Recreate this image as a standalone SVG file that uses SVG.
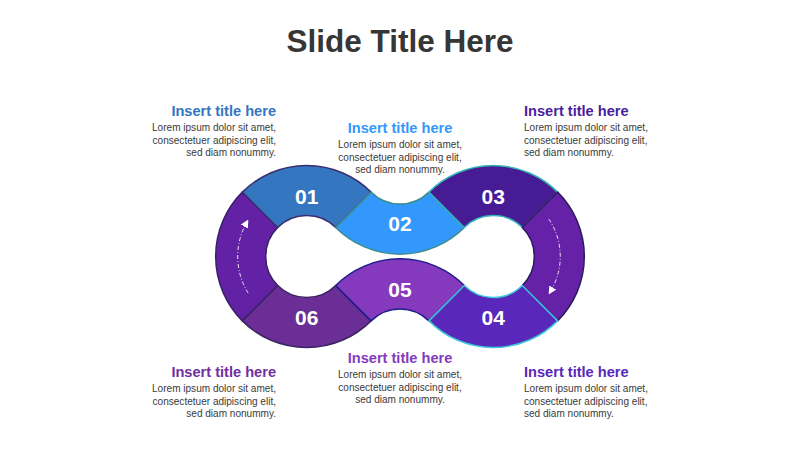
<svg xmlns="http://www.w3.org/2000/svg" width="800" height="450" viewBox="0 0 800 450">
<defs>
<style>
.seg{stroke-width:1.5;stroke-linejoin:round}
.num{font-family:"Liberation Sans",Arial,sans-serif;font-weight:bold;font-size:21px;fill:#ffffff;text-anchor:middle}
.ttl{font-family:"Liberation Sans",Arial,sans-serif;font-weight:bold;font-size:14.6px}
.body{font-family:"Liberation Sans",Arial,sans-serif;font-size:10.05px;fill:#3a3a3a}
.arr{fill:none;stroke:#ffffff;stroke-opacity:0.85;stroke-width:1;stroke-dasharray:4 2 1 2}
</style>
<marker id="ah" viewBox="0 0 8 8" refX="4" refY="4" markerWidth="8" markerHeight="8" markerUnits="userSpaceOnUse" orient="auto">
<path d="M0,0 L8,4 L0,8 Z" fill="#ffffff"/>
</marker>
</defs>
<rect width="800" height="450" fill="#ffffff"/>
<text x="400" y="52" text-anchor="middle" font-family="'Liberation Sans',Arial,sans-serif" font-weight="bold" font-size="31.5" fill="#363636">Slide Title Here</text>

<g id="node-left">
<path class="seg" d="M 242.35 192.15 A 91 91 0 0 0 242.35 320.85 L 277.71 285.49 A 41 41 0 0 1 277.71 227.51 Z" fill="#6321A6" stroke="#3A2066"/>
</g>
<g id="node-01">
<path class="seg" d="M 242.35 192.15 A 91 91 0 0 1 371.05 192.15 L 335.69 227.51 A 41 41 0 0 0 277.71 227.51 Z" fill="#3476C0" stroke="#3A2F6E"/>
<text class="num" x="306.7" y="204">01</text>
</g>
<g id="node-06">
<path class="seg" d="M 242.35 320.85 A 91 91 0 0 0 371.05 320.85 L 335.69 285.49 A 41 41 0 0 1 277.71 285.49 Z" fill="#6A2E96" stroke="#3A2462"/>
<text class="num" x="306.7" y="325">06</text>
</g>
<g id="node-02">
<path class="seg" d="M 371.05 192.15 A 41 41 0 0 0 428.95 192.15 L 464.31 227.51 A 91 91 0 0 1 335.69 227.51 Z" fill="#3398FC" stroke="#3C8C8C"/>
<text class="num" x="400" y="231">02</text>
</g>
<g id="node-05">
<path class="seg" d="M 335.69 285.49 A 91 91 0 0 1 464.31 285.49 L 428.95 320.85 A 41 41 0 0 0 371.05 320.85 Z" fill="#853ABE" stroke="#1C1C8C"/>
<text class="num" x="400" y="297">05</text>
</g>
<g id="node-03">
<path class="seg" d="M 428.95 192.15 A 91 91 0 0 1 557.65 192.15 L 522.29 227.51 A 41 41 0 0 0 464.31 227.51 Z" fill="#461B94" stroke="#33B5B5"/>
<text class="num" x="493.3" y="204">03</text>
</g>
<g id="node-right">
<path class="seg" d="M 557.65 192.15 A 91 91 0 0 1 557.65 320.85 L 522.29 285.49 A 41 41 0 0 0 522.29 227.51 Z" fill="#6522A8" stroke="#2C1A5E"/>
</g>
<g id="node-04">
<path class="seg" d="M 428.95 320.85 A 91 91 0 0 0 557.65 320.85 L 522.29 285.49 A 41 41 0 0 1 464.31 285.49 Z" fill="#5927BA" stroke="#3CC8D8"/>
<text class="num" x="493.3" y="325">04</text>
</g>

<g id="connectors">
<path class="arr" d="M 248.2 293.1 A 69 69 0 0 1 246.35 223.05" marker-end="url(#ah)"/>
<path class="arr" d="M 548.8 219 A 67 67 0 0 1 550.7 291" marker-end="url(#ah)"/>
</g>

<g id="text-01" text-anchor="end">
<text class="ttl" x="276" y="116" fill="#3476C0">Insert title here</text>
<text class="body" x="276" y="131">Lorem ipsum dolor sit amet,</text>
<text class="body" x="276" y="143.5">consectetuer adipiscing elit,</text>
<text class="body" x="276" y="156">sed diam nonummy.</text>
</g>
<g id="text-02" text-anchor="middle">
<text class="ttl" x="400" y="133" fill="#3398FC">Insert title here</text>
<text class="body" x="400" y="148">Lorem ipsum dolor sit amet,</text>
<text class="body" x="400" y="160.5">consectetuer adipiscing elit,</text>
<text class="body" x="400" y="173">sed diam nonummy.</text>
</g>
<g id="text-03" text-anchor="start">
<text class="ttl" x="524" y="116" fill="#4A1E9E">Insert title here</text>
<text class="body" x="524" y="131">Lorem ipsum dolor sit amet,</text>
<text class="body" x="524" y="143.5">consectetuer adipiscing elit,</text>
<text class="body" x="524" y="156">sed diam nonummy.</text>
</g>
<g id="text-06" text-anchor="end">
<text class="ttl" x="276" y="377" fill="#7030A0">Insert title here</text>
<text class="body" x="276" y="392">Lorem ipsum dolor sit amet,</text>
<text class="body" x="276" y="404.5">consectetuer adipiscing elit,</text>
<text class="body" x="276" y="417">sed diam nonummy.</text>
</g>
<g id="text-05" text-anchor="middle">
<text class="ttl" x="400" y="363" fill="#853ABE">Insert title here</text>
<text class="body" x="400" y="378">Lorem ipsum dolor sit amet,</text>
<text class="body" x="400" y="390.5">consectetuer adipiscing elit,</text>
<text class="body" x="400" y="403">sed diam nonummy.</text>
</g>
<g id="text-04" text-anchor="start">
<text class="ttl" x="524" y="377" fill="#5927BA">Insert title here</text>
<text class="body" x="524" y="392">Lorem ipsum dolor sit amet,</text>
<text class="body" x="524" y="404.5">consectetuer adipiscing elit,</text>
<text class="body" x="524" y="417">sed diam nonummy.</text>
</g>
</svg>
